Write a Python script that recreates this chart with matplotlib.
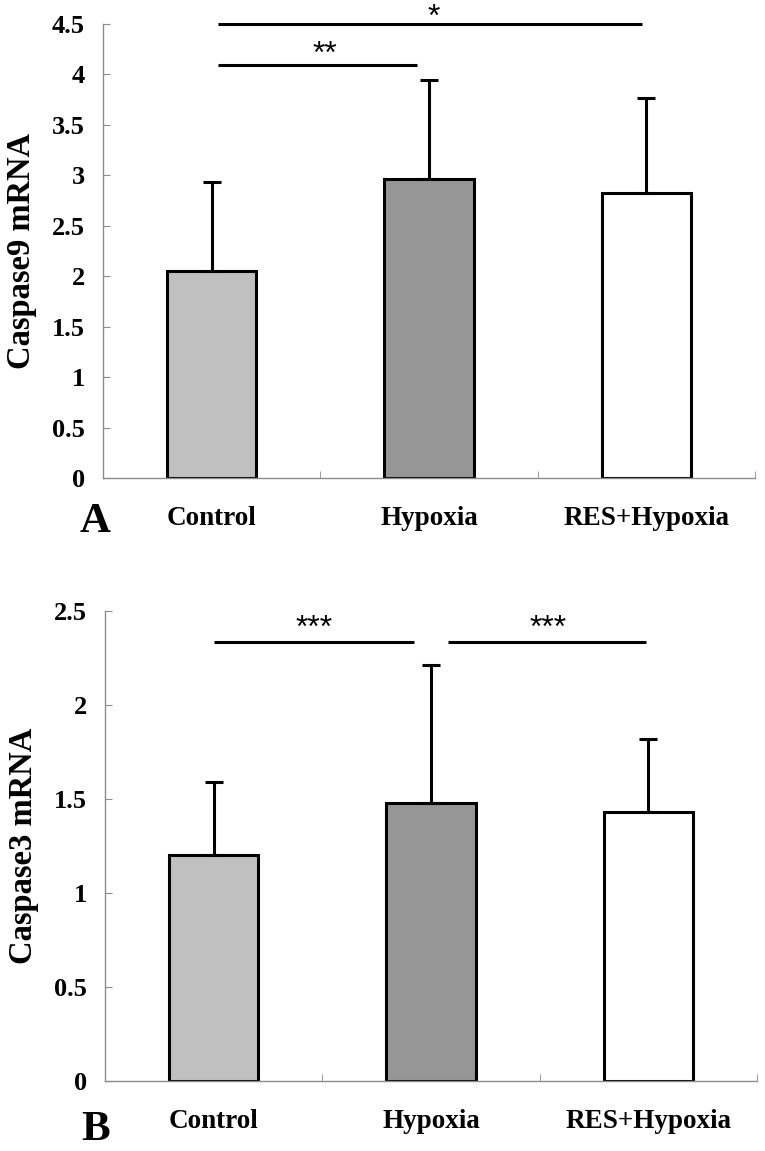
import numpy as np
import matplotlib
matplotlib.use("Agg")
from matplotlib import pyplot as plt

# data
groups = ["Control", "Hypoxia", "RES+Hypoxia"]
colors = ["#c0c0c0", "#969696", "#ffffff"]

casp9_mean = [2.05, 2.96, 2.83]
casp9_err = [0.88, 0.99, 0.94]
casp3_mean = [1.20, 1.48, 1.43]
casp3_err = [0.39, 0.73, 0.39]

# significance brackets: (x start, x end, y, label, label x, label y)
casp9_sig = [(0.03, 0.945, 4.09, "**", 0.52, 4.19),
             (0.03, 1.98, 4.50, "*", 1.02, 4.56)]
casp3_sig = [(0.0, 0.92, 2.337, "***", 0.46, 2.405),
             (1.08, 1.99, 2.337, "***", 1.54, 2.405)]

serif = "Liberation Serif"
spine_gray = "#8c8c8c"


def panel(ax, means, errs, ymax, ystep, ylabel, sig, letter, letter_y):
    x = np.arange(len(groups))
    ax.bar(x, means, width=0.41, color=colors, edgecolor="black",
           linewidth=2.2, zorder=2)
    ax.errorbar(x, means, yerr=[np.zeros(len(errs)), errs], fmt="none",
                ecolor="black", elinewidth=2.2, capsize=6.5, capthick=2.2,
                zorder=3)
    ax.set_xlim(-0.5, 2.5)
    ax.set_ylim(0, ymax)
    for s in ["top", "right"]:
        ax.spines[s].set_visible(False)
    for s in ["left", "bottom"]:
        ax.spines[s].set_color(spine_gray)
        ax.spines[s].set_linewidth(1.0)
    ticks = np.arange(0, ymax + 1e-6, ystep)
    ax.set_yticks(ticks)
    ax.set_yticklabels(["%g" % v for v in ticks],
                       fontfamily=serif, fontweight="bold", fontsize=19)
    ax.tick_params(axis="y", direction="in", length=5, color=spine_gray,
                   pad=13)
    ax.set_xticks(x)
    ax.set_xticklabels(groups, fontfamily=serif, fontweight="bold",
                       fontsize=19.5)
    ax.tick_params(axis="x", which="major", length=0, pad=20)
    ax.set_xticks([0.5, 1.5, 2.5], minor=True)
    ax.tick_params(axis="x", which="minor", direction="in", length=5,
                   color=spine_gray)
    ax.set_ylabel(ylabel, fontfamily=serif, fontweight="bold", fontsize=23.5,
                  labelpad=11)
    for x0, x1, y, lab, lx, ly in sig:
        ax.plot([x0, x1], [y, y], color="black", lw=2.2, clip_on=False,
                solid_capstyle="butt")
        ax.text(lx, ly, lab, ha="center", va="center", fontsize=23,
                fontfamily="Liberation Sans", clip_on=False)
    ax.text(0.125, letter_y, letter, transform=ax.figure.transFigure,
            ha="center", va="center", fontfamily=serif, fontweight="bold",
            fontsize=31)


fig = plt.figure(figsize=(7.65, 11.51), dpi=100)
ax1 = fig.add_axes([0.1346, 0.5847, 0.8524, 0.3944])
ax2 = fig.add_axes([0.1373, 0.0608, 0.8522, 0.4084])

panel(ax1, casp9_mean, casp9_err, 4.5, 0.5, "Caspase9 mRNA", casp9_sig,
      "A", 1 - 522 / 1151)
panel(ax2, casp3_mean, casp3_err, 2.5, 0.5, "Caspase3 mRNA", casp3_sig,
      "B", 1 - 1130 / 1151)

fig.savefig("out.png", dpi=100)
